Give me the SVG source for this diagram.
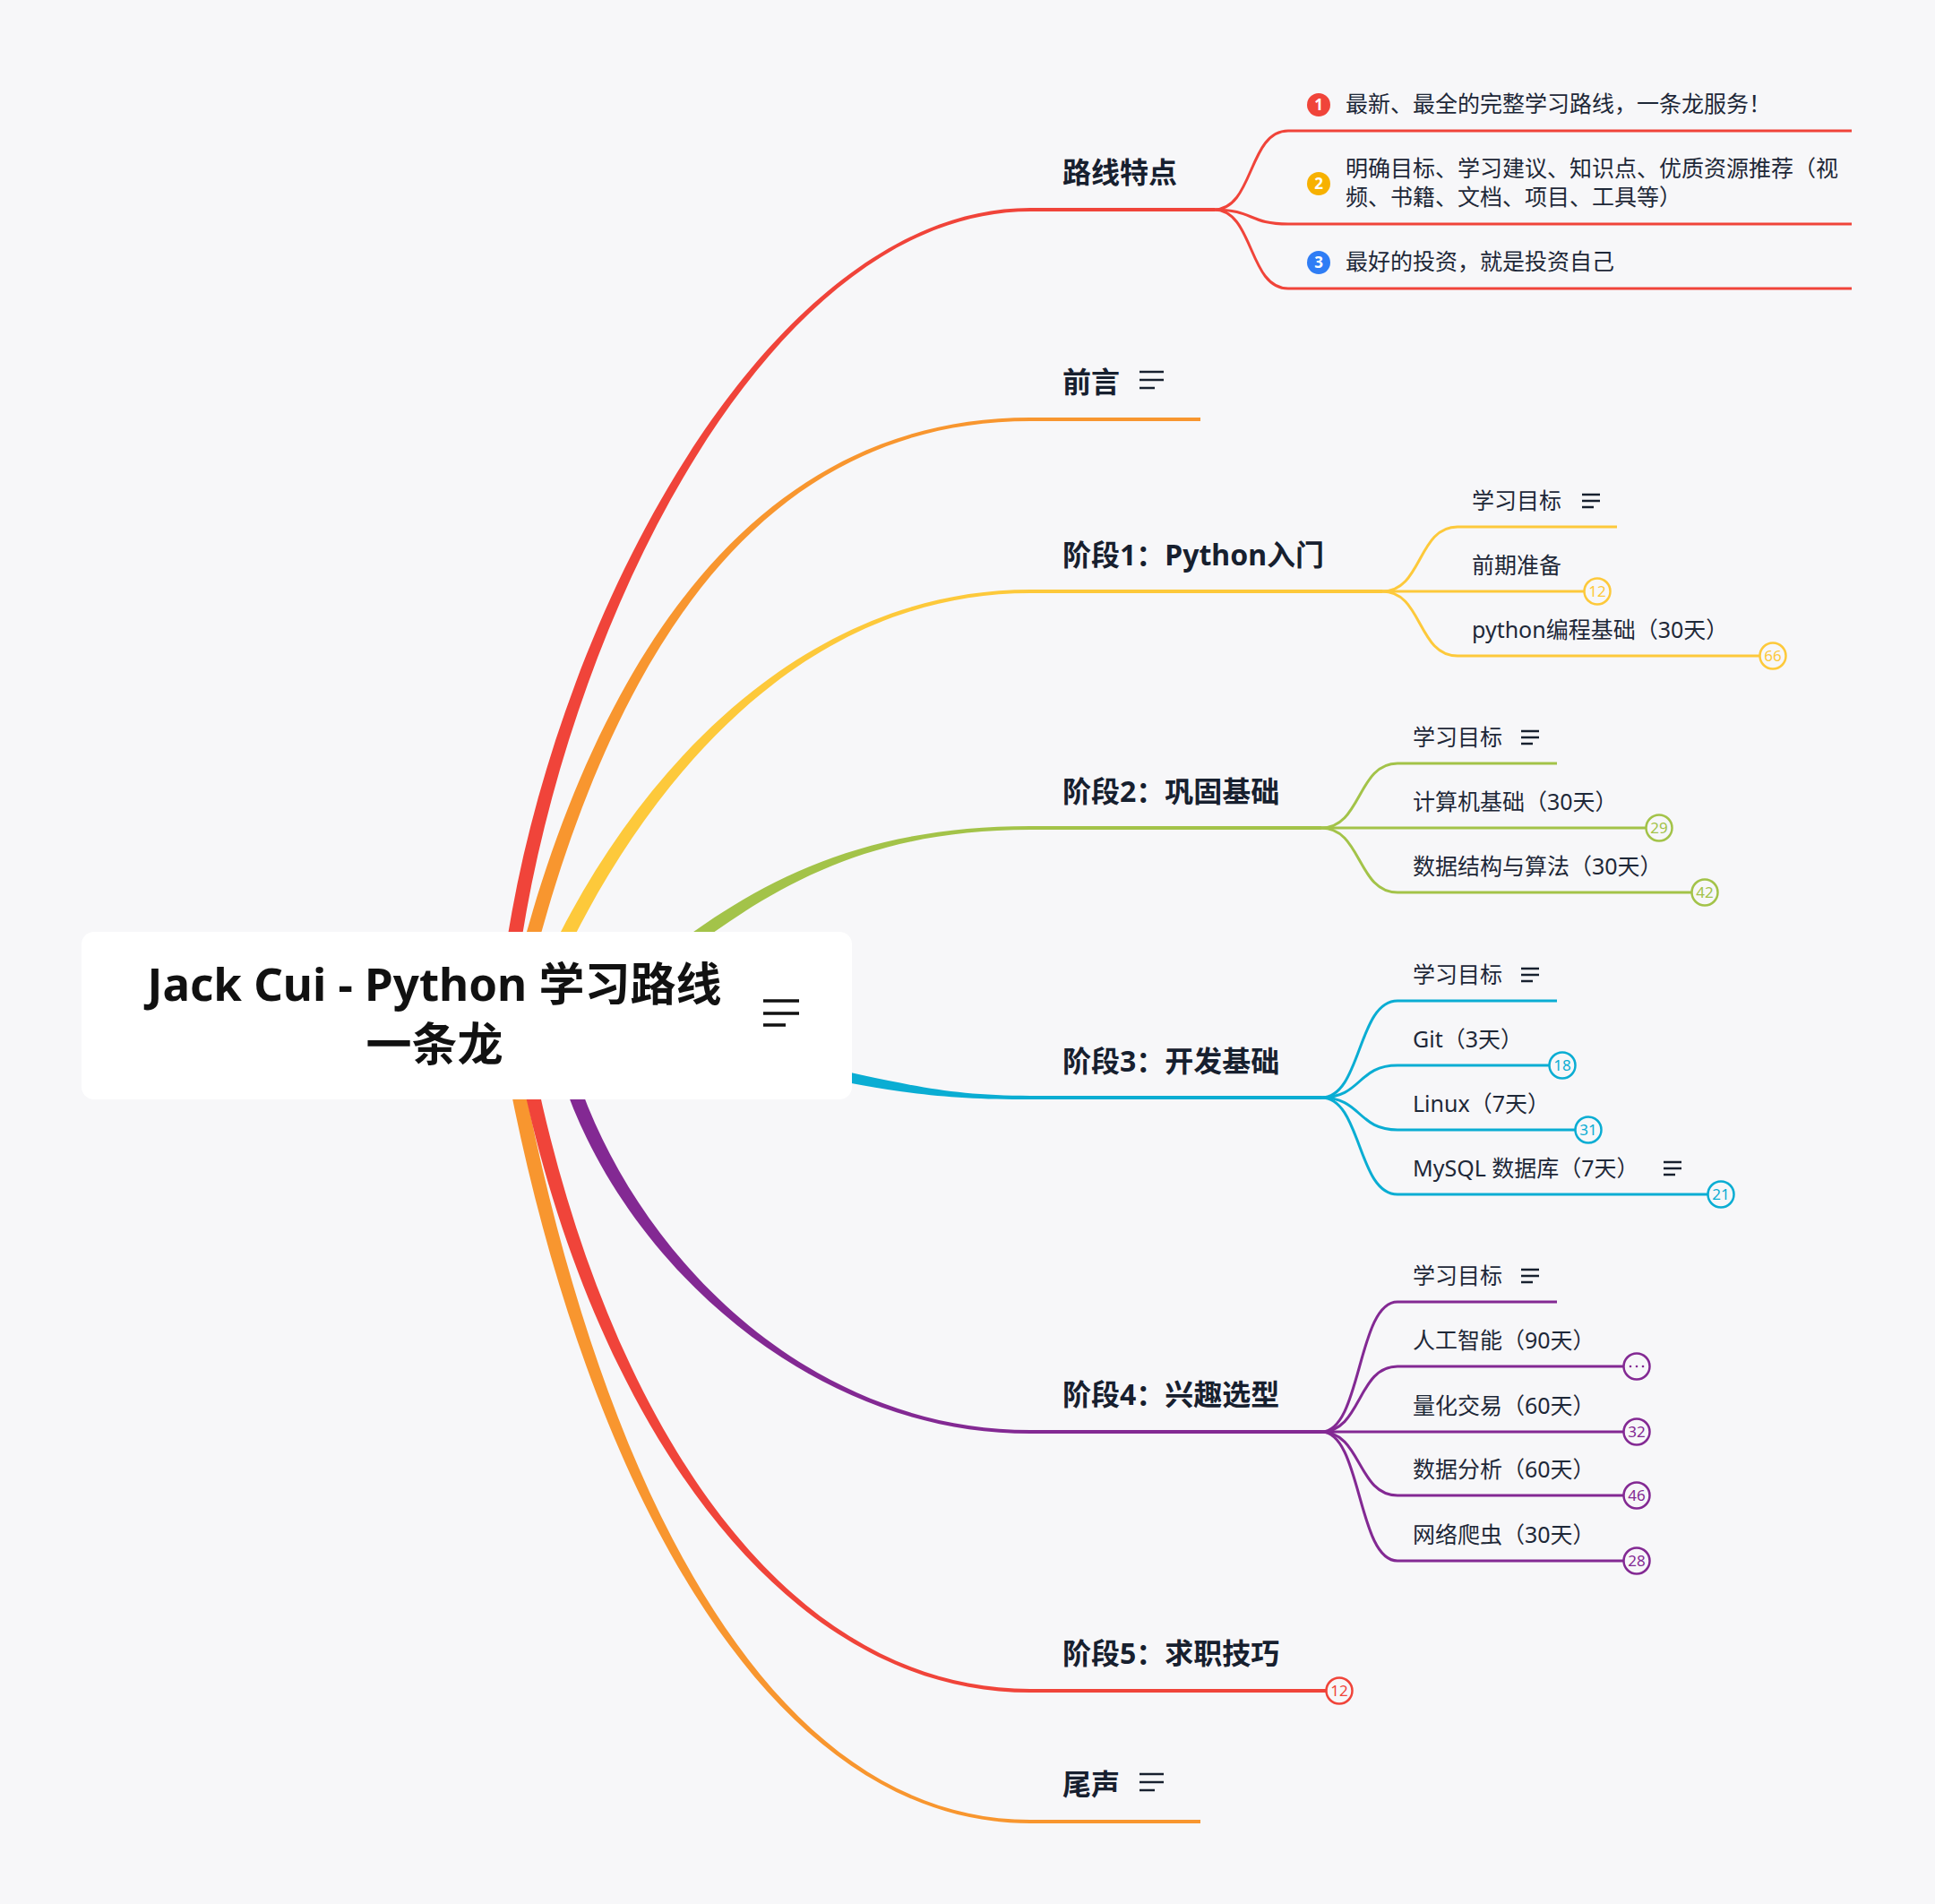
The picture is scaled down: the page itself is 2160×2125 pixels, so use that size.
<svg xmlns="http://www.w3.org/2000/svg" width="2160" height="2125" viewBox="0 0 2160 2125">
<style>
.f{font-family:'Noto Sans','Noto Sans CJK SC',sans-serif}
.tm{font-size:32px;font-weight:700;fill:#17202F}
.ts{font-size:25px;fill:#1E2838}
.tt{font-size:51px;font-weight:700;fill:#111111;text-anchor:middle}
.bd{fill:#F7F7F9;stroke-width:2.5}
.bt{font-size:17px;text-anchor:middle}
.nt line{stroke:#17202F;stroke-width:2.5}
.ln{fill:none;stroke-width:3;stroke-linejoin:round}
.ml{fill:none;stroke-width:4}
.nb{font-size:17px;font-weight:700;fill:#FFFFFF;text-anchor:middle}
</style>
<rect x="0" y="0" width="2160" height="2125" fill="#F7F7F9"/>
<g id="connectors">
  <path fill="#F0443A" d="M563.1,1068.9 C617.1,688.9 860,232 1150,232 L1150,236 C860,236 632.9,691.1 578.9,1071.1 Z"/>
  <path fill="#F8962F" d="M580.3,1068 C662.3,758 830,466 1150,466 L1150,470 C830,470 677.7,762 595.7,1072 Z"/>
  <path fill="#FDC93B" d="M612.8,1066.6 C712.8,856.6 900,658 1150,658 L1150,662 C900,662 727.2,863.4 627.2,1073.4 Z"/>
  <path fill="#A3C349" d="M740.8,1064.4 C845.8,984.4 960,922 1150,922 L1150,926 C960,926 854.2,995.6 749.2,1075.6 Z"/>
  <path fill="#0AADD3" d="M901.2,1187.1 C1001.2,1207.1 1050,1223 1150,1223 L1150,1227 C1050,1227 998.8,1218.9 898.8,1198.9 Z"/>
  <path fill="#832993" d="M627.4,1202.5 C692.4,1402.5 900,1600 1150,1600 L1150,1596 C900,1596 707.6,1397.5 642.6,1197.5 Z"/>
  <path fill="#F8962F" d="M567.1,1201.5 C652.1,1641.5 850,2035 1150,2035 L1150,2031 C850,2031 667.9,1638.5 582.9,1198.5 Z"/>
  <path fill="#F0443A" d="M582.2,1201.6 C657.2,1561.6 860,1889 1150,1889 L1150,1885 C860,1885 672.8,1558.4 597.8,1198.4 Z"/>
  <path class="ml" stroke="#F0443A" d="M1150,234 H1356"/>
  <path class="ml" stroke="#F8962F" d="M1150,468 H1340"/>
  <path class="ml" stroke="#FDC93B" d="M1150,660 H1543"/>
  <path class="ml" stroke="#A3C349" d="M1150,924 H1475"/>
  <path class="ml" stroke="#0AADD3" d="M1150,1225 H1475"/>
  <path class="ml" stroke="#832993" d="M1150,1598 H1475"/>
  <path class="ml" stroke="#F0443A" d="M1150,1887 H1481"/>
  <path class="ml" stroke="#F8962F" d="M1150,2033 H1340"/>
  <g stroke="#F0443A">
    <path class="ln" d="M1355,234 C1400,234 1393,146 1438,146 H2067"/>
    <path class="ln" d="M1355,234 C1400,234 1393,250 1438,250 H2067"/>
    <path class="ln" d="M1355,234 C1400,234 1393,322 1438,322 H2067"/>
  </g>
  <g stroke="#FDC93B">
    <path class="ln" d="M1543,660 C1588,660 1582,588 1627,588 H1805"/>
    <path class="ln" d="M1543,660 H1769"/>
    <path class="ln" d="M1543,660 C1588,660 1582,732 1627,732 H1964"/>
  </g>
  <g stroke="#A3C349">
    <path class="ln" d="M1475,924 C1520,924 1515,852 1560,852 H1738"/>
    <path class="ln" d="M1475,924 H1837"/>
    <path class="ln" d="M1475,924 C1520,924 1515,996 1560,996 H1888"/>
  </g>
  <g stroke="#0AADD3">
    <path class="ln" d="M1475,1225 C1520,1225 1515,1117 1560,1117 H1738"/>
    <path class="ln" d="M1475,1225 C1520,1225 1515,1189 1560,1189 H1729"/>
    <path class="ln" d="M1475,1225 C1520,1225 1515,1261 1560,1261 H1758"/>
    <path class="ln" d="M1475,1225 C1520,1225 1515,1333 1560,1333 H1906"/>
  </g>
  <g stroke="#832993">
    <path class="ln" d="M1475,1598 C1520,1598 1515,1453 1560,1453 H1738"/>
    <path class="ln" d="M1475,1598 C1520,1598 1515,1525 1560,1525 H1812"/>
    <path class="ln" d="M1475,1598 H1812"/>
    <path class="ln" d="M1475,1598 C1520,1598 1515,1669 1560,1669 H1812"/>
    <path class="ln" d="M1475,1598 C1520,1598 1515,1742 1560,1742 H1812"/>
  </g>
</g>
<g id="root">
  <rect x="91" y="1040" width="860" height="187" rx="14" fill="#FFFFFF"/>
  <text class="f tt" x="485" y="1117">Jack Cui - Python 学习路线</text>
  <text class="f tt" x="485" y="1184">一条龙</text>
  <g stroke="#111111" stroke-width="3.5">
    <line x1="852" y1="1117" x2="892" y2="1117"/>
    <line x1="852" y1="1131" x2="892" y2="1131"/>
    <line x1="852" y1="1144" x2="877" y2="1144"/>
  </g>
</g>
<g id="topic-features">
  <text class="f tm" x="1186" y="204">路线特点</text>
</g>
<g id="feature-1">
  <circle cx="1472" cy="117" r="13" fill="#F0443A"/>
  <text class="f nb" x="1472" y="123">1</text>
  <text class="f ts" x="1502" y="125">最新、最全的完整学习路线，一条龙服务！</text>
</g>
<g id="feature-2">
  <circle cx="1472" cy="205" r="13" fill="#F7B100"/>
  <text class="f nb" x="1472" y="211">2</text>
  <text class="f ts" x="1502" y="197">明确目标、学习建议、知识点、优质资源推荐（视</text>
  <text class="f ts" x="1502" y="229">频、书籍、文档、项目、工具等）</text>
</g>
<g id="feature-3">
  <circle cx="1472" cy="293" r="13" fill="#2F7DF5"/>
  <text class="f nb" x="1472" y="299">3</text>
  <text class="f ts" x="1502" y="301">最好的投资，就是投资自己</text>
</g>
<g id="topic-preface">
  <text class="f tm" x="1186" y="438">前言</text>
  <g class="nt"><line x1="1272" y1="415" x2="1299" y2="415"/><line x1="1272" y1="424" x2="1299" y2="424"/><line x1="1272" y1="433" x2="1289" y2="433"/></g>
</g>
<g id="topic-stage1">
  <text class="f tm" x="1186" y="631">阶段1：Python入门</text>
</g>
<g id="s1-goal">
  <text class="f ts" x="1643" y="568">学习目标</text>
  <g class="nt"><line x1="1766" y1="552" x2="1786" y2="552"/><line x1="1766" y1="559" x2="1786" y2="559"/><line x1="1766" y1="566" x2="1779" y2="566"/></g>
</g>
<g id="s1-prep">
  <text class="f ts" x="1643" y="640">前期准备</text>
  <circle class="bd" cx="1783" cy="660" r="14.5" stroke="#FDC93B"/>
  <text class="f bt" x="1783" y="666" fill="#FDC93B">12</text>
</g>
<g id="s1-python">
  <text class="f ts" x="1643" y="712">python编程基础（30天）</text>
  <circle class="bd" cx="1979" cy="732" r="14.5" stroke="#FDC93B"/>
  <text class="f bt" x="1979" y="738" fill="#FDC93B">66</text>
</g>
<g id="topic-stage2">
  <text class="f tm" x="1186" y="895">阶段2：巩固基础</text>
</g>
<g id="s2-goal">
  <text class="f ts" x="1577" y="832">学习目标</text>
  <g class="nt"><line x1="1698" y1="816" x2="1718" y2="816"/><line x1="1698" y1="823" x2="1718" y2="823"/><line x1="1698" y1="830" x2="1711" y2="830"/></g>
</g>
<g id="s2-cs">
  <text class="f ts" x="1577" y="904">计算机基础（30天）</text>
  <circle class="bd" cx="1852" cy="924" r="14.5" stroke="#A3C349"/>
  <text class="f bt" x="1852" y="930" fill="#A3C349">29</text>
</g>
<g id="s2-ds">
  <text class="f ts" x="1577" y="976">数据结构与算法（30天）</text>
  <circle class="bd" cx="1903" cy="996" r="14.5" stroke="#A3C349"/>
  <text class="f bt" x="1903" y="1002" fill="#A3C349">42</text>
</g>
<g id="topic-stage3">
  <text class="f tm" x="1186" y="1196">阶段3：开发基础</text>
</g>
<g id="s3-goal">
  <text class="f ts" x="1577" y="1097">学习目标</text>
  <g class="nt"><line x1="1698" y1="1081" x2="1718" y2="1081"/><line x1="1698" y1="1088" x2="1718" y2="1088"/><line x1="1698" y1="1095" x2="1711" y2="1095"/></g>
</g>
<g id="s3-git">
  <text class="f ts" x="1577" y="1169">Git（3天）</text>
  <circle class="bd" cx="1744" cy="1189" r="14.5" stroke="#0AADD3"/>
  <text class="f bt" x="1744" y="1195" fill="#0AADD3">18</text>
</g>
<g id="s3-linux">
  <text class="f ts" x="1577" y="1241">Linux（7天）</text>
  <circle class="bd" cx="1773" cy="1261" r="14.5" stroke="#0AADD3"/>
  <text class="f bt" x="1773" y="1267" fill="#0AADD3">31</text>
</g>
<g id="s3-mysql">
  <text class="f ts" x="1577" y="1313">MySQL 数据库（7天）</text>
  <g class="nt"><line x1="1857" y1="1297" x2="1877" y2="1297"/><line x1="1857" y1="1304" x2="1877" y2="1304"/><line x1="1857" y1="1311" x2="1870" y2="1311"/></g>
  <circle class="bd" cx="1921" cy="1333" r="14.5" stroke="#0AADD3"/>
  <text class="f bt" x="1921" y="1339" fill="#0AADD3">21</text>
</g>
<g id="topic-stage4">
  <text class="f tm" x="1186" y="1568">阶段4：兴趣选型</text>
</g>
<g id="s4-goal">
  <text class="f ts" x="1577" y="1433">学习目标</text>
  <g class="nt"><line x1="1698" y1="1417" x2="1718" y2="1417"/><line x1="1698" y1="1424" x2="1718" y2="1424"/><line x1="1698" y1="1431" x2="1711" y2="1431"/></g>
</g>
<g id="s4-ai">
  <text class="f ts" x="1577" y="1505">人工智能（90天）</text>
  <circle class="bd" cx="1827" cy="1525" r="14.5" stroke="#832993"/>
  <g fill="#832993"><circle cx="1820" cy="1525" r="1.3"/><circle cx="1827" cy="1525" r="1.3"/><circle cx="1834" cy="1525" r="1.3"/></g>
</g>
<g id="s4-quant">
  <text class="f ts" x="1577" y="1578">量化交易（60天）</text>
  <circle class="bd" cx="1827" cy="1598" r="14.5" stroke="#832993"/>
  <text class="f bt" x="1827" y="1604" fill="#832993">32</text>
</g>
<g id="s4-data">
  <text class="f ts" x="1577" y="1649">数据分析（60天）</text>
  <circle class="bd" cx="1827" cy="1669" r="14.5" stroke="#832993"/>
  <text class="f bt" x="1827" y="1675" fill="#832993">46</text>
</g>
<g id="s4-spider">
  <text class="f ts" x="1577" y="1722">网络爬虫（30天）</text>
  <circle class="bd" cx="1827" cy="1742" r="14.5" stroke="#832993"/>
  <text class="f bt" x="1827" y="1748" fill="#832993">28</text>
</g>
<g id="topic-stage5">
  <text class="f tm" x="1186" y="1857">阶段5：求职技巧</text>
  <circle class="bd" cx="1495" cy="1887" r="14.5" stroke="#F0443A"/>
  <text class="f bt" x="1495" y="1893" fill="#F0443A">12</text>
</g>
<g id="topic-epilogue">
  <text class="f tm" x="1186" y="2003">尾声</text>
  <g class="nt"><line x1="1272" y1="1980" x2="1299" y2="1980"/><line x1="1272" y1="1989" x2="1299" y2="1989"/><line x1="1272" y1="1998" x2="1289" y2="1998"/></g>
</g>
</svg>
